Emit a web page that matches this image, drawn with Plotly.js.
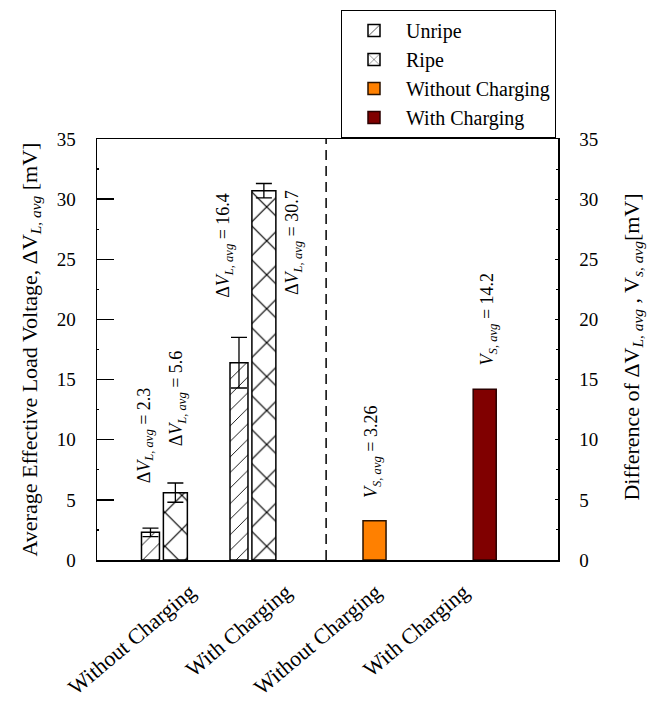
<!DOCTYPE html>
<html><head><meta charset="utf-8">
<script src="https://cdn.plot.ly/plotly-3.0.1.min.js"></script>
<style>html,body{margin:0;padding:0;background:#fff}</style>
</head><body><div id="chart" style="width:662px;height:702px"></div>
<script>
// ---- data ----
const groupLabels = ['Without Charging', 'With Charging', 'Without Charging', 'With Charging'];
const seriesNames = ['Unripe', 'Ripe', 'Without Charging', 'With Charging'];
const unripeValues = [2.3, 16.4];
const unripeErrors = [0.35, 2.1];
const ripeValues = [5.6, 30.7];
const ripeErrors = [0.8, 0.6];
const sourceValues = [3.26, 14.2];
const yTickValues = [0, 5, 10, 15, 20, 25, 30, 35];

// ---- layout positions (not data) ----
const groupPos = [1.43, 3.35, 6.02, 8.41];
const pairOffset = 0.27;
const tickPos = [2.02, 4.1, 6.05, 7.95];
const dividerPos = 4.97;
const FONT = 'Liberation Serif, Times New Roman, serif';

const unripeX = [groupPos[0] - pairOffset, groupPos[1] - pairOffset];
const ripeX = [groupPos[0] + pairOffset, groupPos[1] + pairOffset];

const traces = [
  {
    type: 'bar', name: seriesNames[0], x: unripeX, y: unripeValues, width: 0.39,
    marker: {color: 'white', line: {color: 'black', width: 1.5},
      pattern: {shape: '/', fgcolor: 'black', bgcolor: 'white', size: 11, solidity: 0.08}},
    error_y: {type: 'data', array: unripeErrors, visible: true, color: 'black', thickness: 1.3, width: 8}
  },
  {
    type: 'bar', name: seriesNames[1], x: ripeX, y: ripeValues, width: 0.52,
    marker: {color: 'white', line: {color: 'black', width: 1.5},
      pattern: {shape: 'x', fgcolor: 'black', bgcolor: 'white', size: 24, solidity: 0.1}},
    error_y: {type: 'data', array: ripeErrors, visible: true, color: 'black', thickness: 1.3, width: 8}
  },
  {
    type: 'bar', name: seriesNames[2], x: [groupPos[2]], y: [sourceValues[0]], width: 0.5, yaxis: 'y2',
    marker: {color: '#ff8000', line: {color: '#2a1200', width: 1.5}}
  },
  {
    type: 'bar', name: seriesNames[3], x: [groupPos[3]], y: [sourceValues[1]], width: 0.5, yaxis: 'y2',
    marker: {color: '#800000', line: {color: '#2a0000', width: 1.5}}
  }
];

const annFont = {family: FONT, size: 18, color: 'black'};
const lText = v => 'Δ<i>V</i><sub><i>L, avg</i></sub> = ' + v;
const sText = v => '<i>V</i><sub><i>S, avg</i></sub> = ' + v;
const annSpecs = [
  {x: 1.04, y: 6.2, text: lText(unripeValues[0])},
  {x: 1.74, y: 9.3, text: lText(ripeValues[0])},
  {x: 2.78, y: 21.6, text: lText(unripeValues[1])},
  {x: 4.25, y: 21.9, text: lText(ripeValues[1])},
  {x: 5.99, y: 5.0, text: sText(sourceValues[0])},
  {x: 8.5, y: 16.0, text: sText(sourceValues[1])}
];
const annotations = annSpecs.map(a => ({
  x: a.x, y: a.y, xref: 'x', yref: 'y', text: a.text, textangle: -90,
  showarrow: false, xanchor: 'center', yanchor: 'bottom', font: annFont
}));
// right axis title (drawn as a rotated text next to the right axis)
annotations.push({
  xref: 'paper', yref: 'paper', x: 1.163, y: 0.505, textangle: -90, showarrow: false,
  xanchor: 'center', yanchor: 'middle',
  text: 'Difference of ΔV<sub><i>L, avg</i></sub> , V<sub><i>s, avg</i></sub>[mV]',
  font: {family: FONT, size: 22, color: 'black'}
});

const layout = {
  width: 662, height: 702,
  margin: {l: 97, r: 104, t: 139, b: 142, pad: 0, autoexpand: false},
  paper_bgcolor: 'white', plot_bgcolor: 'white',
  font: {family: FONT, color: 'black'},
  barmode: 'overlay',
  showlegend: true,
  legend: {
    xref: 'container', yref: 'container', x: 341 / 662, y: 1 - 10 / 702,
    xanchor: 'left', yanchor: 'top',
    bordercolor: 'black', borderwidth: 1, bgcolor: 'white',
    font: {family: FONT, size: 20, color: 'black'},
    tracegroupgap: 0, itemwidth: 54
  },
  xaxis: {
    range: [0, 10], showgrid: false, zeroline: false,
    showline: true, linecolor: 'black', linewidth: 1.5, mirror: true,
    tickmode: 'array', tickvals: tickPos, ticktext: groupLabels,
    ticks: '', tickangle: -40, ticklabelstandoff: 9,
    tickfont: {family: FONT, size: 22, color: 'black'}
  },
  yaxis: {
    range: [0, 35], tickmode: 'array', tickvals: yTickValues,
    showgrid: false, zeroline: false,
    showline: true, linecolor: 'black', linewidth: 1.5,
    ticks: 'inside', ticklen: 17, tickwidth: 1.3, tickcolor: 'black',
    minor: {dtick: 2.5, ticks: 'inside', ticklen: 2, tickcolor: 'black'},
    ticklabelstandoff: 16,
    tickfont: {family: FONT, size: 19, color: 'black'},
    title: {text: 'Average Effective Load Voltage, ΔV<sub><i>L, avg</i></sub> [mV]', standoff: 13,
      font: {family: FONT, size: 22, color: 'black'}}
  },
  yaxis2: {
    range: [0, 35], overlaying: 'y', side: 'right', tickmode: 'array', tickvals: yTickValues,
    showgrid: false, zeroline: false,
    showline: true, linecolor: 'black', linewidth: 1.5,
    ticks: 'inside', ticklen: 3, tickcolor: 'black',
    minor: {dtick: 2.5, ticks: 'inside', ticklen: 2, tickcolor: 'black'},
    ticklabelstandoff: 16,
    tickfont: {family: FONT, size: 19, color: 'black'}
  },
  shapes: [{
    type: 'line', xref: 'x', yref: 'paper', x0: dividerPos, x1: dividerPos, y0: 0, y1: 1,
    line: {color: 'black', width: 1.5, dash: '10px,6px'}
  }],
  annotations: annotations
};

Plotly.newPlot('chart', traces, layout, {displayModeBar: false, staticPlot: true});
</script>
</body></html>
